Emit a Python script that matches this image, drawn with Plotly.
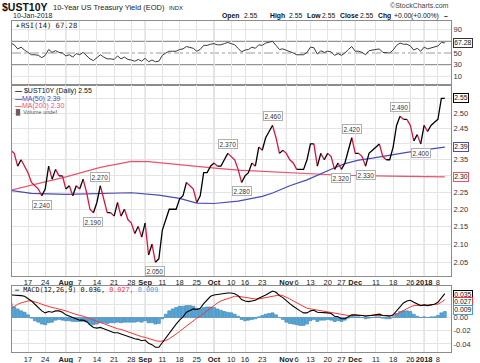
import math
import plotly.graph_objects as go

# ---------------- data ----------------
dates = [
    "2017-07-10","2017-07-11","2017-07-12","2017-07-13","2017-07-14","2017-07-17","2017-07-18","2017-07-19","2017-07-20","2017-07-21",
    "2017-07-24","2017-07-25","2017-07-26","2017-07-27","2017-07-28","2017-07-31",
    "2017-08-01","2017-08-02","2017-08-03","2017-08-04","2017-08-07","2017-08-08","2017-08-09","2017-08-10","2017-08-11","2017-08-14",
    "2017-08-15","2017-08-16","2017-08-17","2017-08-18","2017-08-21","2017-08-22","2017-08-23","2017-08-24","2017-08-25","2017-08-28",
    "2017-08-29","2017-08-30","2017-08-31",
    "2017-09-01","2017-09-05","2017-09-06","2017-09-07","2017-09-08","2017-09-11","2017-09-12","2017-09-13","2017-09-14","2017-09-15",
    "2017-09-18","2017-09-19","2017-09-20","2017-09-21","2017-09-22","2017-09-25","2017-09-26","2017-09-27","2017-09-28","2017-09-29",
    "2017-10-02","2017-10-03","2017-10-04","2017-10-05","2017-10-06","2017-10-10","2017-10-11","2017-10-12","2017-10-13","2017-10-16",
    "2017-10-17","2017-10-18","2017-10-19","2017-10-20","2017-10-23","2017-10-24","2017-10-25","2017-10-26","2017-10-27","2017-10-30",
    "2017-10-31",
    "2017-11-01","2017-11-02","2017-11-03","2017-11-06","2017-11-07","2017-11-08","2017-11-09","2017-11-13","2017-11-14","2017-11-15",
    "2017-11-16","2017-11-17","2017-11-20","2017-11-21","2017-11-22","2017-11-24","2017-11-27","2017-11-28","2017-11-29","2017-11-30",
    "2017-12-01","2017-12-04","2017-12-05","2017-12-06","2017-12-07","2017-12-08","2017-12-11","2017-12-12","2017-12-13","2017-12-14",
    "2017-12-15","2017-12-18","2017-12-19","2017-12-20","2017-12-21","2017-12-22","2017-12-26","2017-12-27","2017-12-28","2017-12-29",
    "2018-01-02","2018-01-03","2018-01-04","2018-01-05","2018-01-08","2018-01-09","2018-01-10",
]

close = [
    2.38,2.37,2.33,2.35,2.33,2.31,2.28,2.27,2.26,2.24,2.26,2.33,2.29,2.32,2.30,2.30,
    2.26,2.27,2.24,2.27,2.26,2.29,2.25,2.20,2.19,2.22,2.27,2.23,2.19,2.19,2.18,2.22,2.18,2.20,2.17,2.16,2.13,2.15,2.12,
    2.16,2.07,2.10,2.05,2.06,2.14,2.17,2.20,2.20,2.20,2.23,2.24,2.28,2.27,2.26,2.22,2.24,2.31,2.31,2.33,
    2.34,2.33,2.33,2.35,2.37,2.36,2.35,2.32,2.28,2.30,2.31,2.34,2.33,2.39,2.38,2.42,2.44,2.46,2.42,2.37,2.38,
    2.37,2.35,2.34,2.32,2.32,2.32,2.35,2.40,2.40,2.33,2.37,2.35,2.37,2.36,2.32,2.34,2.32,2.34,2.38,2.42,
    2.37,2.37,2.36,2.33,2.37,2.38,2.39,2.40,2.36,2.35,2.35,2.39,2.46,2.49,2.48,2.48,2.46,2.41,2.43,2.40,
    2.46,2.44,2.46,2.47,2.48,2.55,2.55,
]

rsi = [
    67,64,57,60,55,51,47,47,46,42, 46,56,51,54,51,50,45,47,43,49,
    47,51,46,40,37,42,47,43,40,40, 39,45,40,43,39,38,36,39,36,41,
    35,38,35,36,46,50,53,53,53,56, 57,61,60,58,53,56,63,63,65,66,
    64,64,66,68,66,64,58,52,55,56, 60,58,64,63,67,68,70,63,56,57,
    55,52,50,47,47,47,51,60,59,48, 54,51,53,52,46,49,46,50,56,61,
    53,53,51,47,54,55,56,57,51,50, 50,55,63,67,65,65,62,55,58,53,
    60,57,59,61,62,68,67.28,
]

ma50_dates = ["2017-07-10","2017-07-18","2017-08-01","2017-08-15","2017-08-28","2017-09-08","2017-09-18","2017-09-25",
              "2017-10-02","2017-10-12","2017-10-18","2017-10-23","2017-10-26","2017-11-02","2017-11-09","2017-11-17",
              "2017-11-22","2017-11-28","2017-12-04","2017-12-08","2017-12-15","2017-12-22","2018-01-02","2018-01-10"]
ma50 = [2.256,2.247,2.244,2.246,2.249,2.242,2.232,2.218,2.217,2.224,2.232,2.238,2.248,2.270,2.288,2.312,
        2.325,2.338,2.349,2.355,2.365,2.373,2.381,2.390]

ma200_dates = ["2017-07-10","2017-07-18","2017-08-01","2017-08-15","2017-08-28","2017-09-05","2017-09-19","2017-10-03",
               "2017-10-12","2017-11-02","2017-11-27","2017-12-15","2018-01-10"]
ma200 = [2.257,2.272,2.297,2.326,2.345,2.344,2.333,2.323,2.318,2.309,2.302,2.299,2.297]

macd = [
    0.034,0.034,0.033,0.033,0.032,0.029,0.025,0.020,0.015,0.010,
    0.007,0.009,0.008,0.010,0.010,0.008,0.004,0.002,-0.001,-0.003,
    -0.004,-0.004,-0.006,-0.011,-0.015,-0.016,-0.015,-0.017,-0.019,-0.021,
    -0.023,-0.023,-0.025,-0.026,-0.028,-0.030,-0.032,-0.033,-0.035,-0.034,
    -0.039,-0.041,-0.045,-0.045,-0.038,-0.031,-0.023,-0.016,-0.010,-0.004,
    0.001,0.008,0.011,0.013,0.012,0.014,0.021,0.027,0.032,0.034,
    0.035,0.035,0.036,0.037,0.037,0.036,0.033,0.027,0.025,0.024,
    0.025,0.026,0.029,0.031,0.034,0.037,0.040,0.038,0.033,0.030,
    0.025,0.021,0.017,0.013,0.010,0.007,0.007,0.010,0.011,0.008,
    0.008,0.007,0.007,0.006,0.002,0.001,-0.002,-0.002,0.001,0.004,
    0.004,0.004,0.003,0.002,0.003,0.003,0.004,0.005,0.003,0.002,
    0.002,0.004,0.010,0.017,0.022,0.025,0.026,0.023,0.021,0.018,
    0.019,0.018,0.019,0.020,0.023,0.030,0.036,
]

signal = [
    0.013,0.017,0.020,0.022,0.024,0.025,0.025,0.024,0.022,0.020,
    0.018,0.016,0.015,0.014,0.013,0.012,0.010,0.008,0.006,0.004,
    0.003,0.002,0.000,-0.002,-0.004,-0.006,-0.008,-0.010,-0.011,-0.013,
    -0.015,-0.017,-0.018,-0.020,-0.022,-0.024,-0.026,-0.027,-0.029,-0.030,
    -0.032,-0.034,-0.035,-0.036,-0.036,-0.035,-0.032,-0.029,-0.025,-0.021,
    -0.017,-0.012,-0.008,-0.004,-0.001,0.002,0.006,0.011,0.015,0.019,
    0.022,0.025,0.027,0.029,0.031,0.032,0.032,0.031,0.030,0.029,
    0.028,0.028,0.028,0.029,0.030,0.031,0.033,0.034,0.034,0.033,
    0.031,0.028,0.025,0.022,0.019,0.016,0.014,0.013,0.012,0.011,
    0.010,0.009,0.008,0.007,0.006,0.005,0.004,0.003,0.003,0.003,
    0.003,0.003,0.003,0.003,0.003,0.003,0.003,0.004,0.004,0.004,
    0.003,0.003,0.005,0.008,0.011,0.014,0.016,0.018,0.018,0.018,
    0.019,0.019,0.019,0.020,0.020,0.023,0.027,
]

hist = [
    0.021,0.016,0.013,0.010,0.008,0.004,-0.001,-0.005,-0.007,-0.010,
    -0.011,-0.008,-0.007,-0.004,-0.003,-0.004,-0.005,-0.005,-0.006,-0.006,
    -0.006,-0.006,-0.007,-0.010,-0.011,-0.010,-0.008,-0.008,-0.009,-0.008,
    -0.008,-0.007,-0.008,-0.007,-0.007,-0.007,-0.007,-0.006,-0.007,-0.005,
    -0.008,-0.008,-0.010,-0.009,-0.002,0.005,0.010,0.013,0.015,0.017,
    0.017,0.018,0.018,0.017,0.014,0.013,0.015,0.016,0.016,0.015,
    0.013,0.011,0.009,0.008,0.007,0.005,0.002,-0.003,-0.005,-0.004,
    -0.003,-0.002,0.001,0.003,0.005,0.006,0.007,0.004,0.000,-0.003,
    -0.007,-0.009,-0.010,-0.011,-0.012,-0.012,-0.010,-0.005,-0.003,-0.006,
    -0.004,-0.004,-0.003,-0.004,-0.006,-0.005,-0.006,-0.004,-0.001,0.002,
    0.001,0.001,0.000,-0.002,-0.001,0.000,0.001,0.001,-0.001,-0.002,
    -0.002,0.001,0.006,0.009,0.010,0.010,0.009,0.005,0.002,0.000,
    0.001,0.000,0.001,0.001,0.003,0.007,0.009,
]

tick_dates = ["2017-07-17","2017-07-24","2017-08-01","2017-08-07","2017-08-14","2017-08-21","2017-08-28",
              "2017-09-01","2017-09-11","2017-09-18","2017-09-25","2017-10-02","2017-10-10","2017-10-16",
              "2017-10-23","2017-11-01","2017-11-06","2017-11-13","2017-11-20","2017-11-27","2017-12-01",
              "2017-12-11","2017-12-18","2017-12-26","2018-01-02","2018-01-08"]
tick_text = ["17","24","<b>Aug</b>","7","14","21","28","<b>Sep</b>","11","18","25","<b>Oct</b>","10","16",
             "23","<b>Nov</b>","6","13","20","27","<b>Dec</b>","11","18","26","<b>2018</b>","8"]
month_dates = ["2017-08-01","2017-09-01","2017-10-02","2017-11-01","2017-12-01","2018-01-02"]

swing_dates = ["2017-07-21","2017-08-11","2017-08-15","2017-09-07","2017-10-06","2017-10-13",
               "2017-10-26","2017-11-27","2017-11-30","2017-12-06","2017-12-20","2017-12-29"]
swing_side = ["below","below","above","below","above","below","above","below","above","below","above","below"]

price_ticks = [2.05,2.10,2.15,2.20,2.25,2.30,2.35,2.40,2.45,2.50,2.55]
price_tick_text = ["2.05","2.10","2.15","2.20","2.25","","2.35","","2.45","2.50",""]   # others hidden under value tags
rsi_ticks = [10,30,50,70,90]
rsi_tick_text = ["10","30","50","","90"]
macd_ticks = [-0.04,-0.02,0.0,0.02,0.04]
macd_tick_text = ["-0.04","-0.02","0.00","",""]

# header quote line: (text, bold?)
quote_parts = [("Open", True), ("2.55", False), ("High", True), ("2.55", False), ("Low", True), ("2.55", False),
               ("Close", True), ("2.55", False), ("Chg", True), ("+0.00", False), ("(+0.00%)", False), ("\u2013", True)]

# ---------------- layout helpers ----------------
W, H = 480, 363
LEFT, RIGHT = 12, 451
RSI_TOP, RSI_BOT = 21, 85
MAIN_TOP, MAIN_BOT = 85, 275.7
MACD_TOP, MACD_BOT = 285.7, 352
FONT = "Liberation Sans, Arial, sans-serif"
MONO = "DejaVu Sans Mono, monospace"
QUOTE_X = [220, 242, 268, 287, 305, 320, 338, 358, 376, 392, 409, 442]

def px(xp):
    return xp / W

def py(yp):
    return 1 - yp / H

UP_COL = "#000000"
DN_COL = "#dc143c"
MA50_COL = "#4a4ab8"
MA200_COL = "#e8546e"
HIST_COL = "#56a8d8"
GRID = "#e4e4e4"
MONTHGRID = "#c9c9c9"
XRANGE = [0.356, 127.8]

fig = go.Figure()

# RSI panel
fig.add_trace(go.Scatter(x=dates, y=rsi, mode="lines", line=dict(color="#3a3a3a", width=1),
                         xaxis="x", yaxis="y", hoverinfo="skip"))

# price line, black on up-days and red on down-days
runs = {"up": ([], []), "dn": ([], [])}
cur = None
rx, ry = [], []
for k in range(len(close) - 1):
    c = "up" if close[k + 1] >= close[k] else "dn"
    if c != cur:
        if cur is not None:
            runs[cur][0].extend(rx + [rx[-1]])
            runs[cur][1].extend(ry + [None])
        rx, ry = [dates[k]], [close[k]]
        cur = c
    rx.append(dates[k + 1])
    ry.append(close[k + 1])
runs[cur][0].extend(rx)
runs[cur][1].extend(ry)

fig.add_trace(go.Scatter(x=ma200_dates, y=ma200, mode="lines", line=dict(color=MA200_COL, width=1.2),
                         xaxis="x2", yaxis="y2", hoverinfo="skip"))
fig.add_trace(go.Scatter(x=ma50_dates, y=ma50, mode="lines", line=dict(color=MA50_COL, width=1.2),
                         xaxis="x2", yaxis="y2", hoverinfo="skip"))
for key, col in (("dn", DN_COL), ("up", UP_COL)):
    fig.add_trace(go.Scatter(x=runs[key][0], y=runs[key][1], mode="lines", connectgaps=False,
                             line=dict(color=col, width=1.3), xaxis="x2", yaxis="y2", hoverinfo="skip"))

# MACD panel
fig.add_trace(go.Bar(x=dates, y=hist, marker=dict(color=HIST_COL, line=dict(color="#2f78a8", width=0.5)),
                     xaxis="x3", yaxis="y3", hoverinfo="skip"))
fig.add_trace(go.Scatter(x=dates, y=signal, mode="lines", line=dict(color="#ff3333", width=1),
                         xaxis="x3", yaxis="y3", hoverinfo="skip"))
fig.add_trace(go.Scatter(x=dates, y=macd, mode="lines", line=dict(color="#000000", width=1.1),
                         xaxis="x3", yaxis="y3", hoverinfo="skip"))

xcommon = dict(type="category", categoryorder="array", categoryarray=dates, range=XRANGE,
               tickmode="array", tickvals=tick_dates, ticktext=tick_text, showgrid=True, gridcolor=GRID,
               gridwidth=1, showline=True, linecolor="#8c8c8c", linewidth=1, mirror=True, ticks="",
               tickangle=0, zeroline=False, domain=[px(LEFT), px(RIGHT)], automargin=False,
               tickfont=dict(size=7.5, color="#222", family=FONT), fixedrange=True)
ycommon = dict(side="right", showline=True, linecolor="#8c8c8c", linewidth=1, mirror=True, ticks="",
               zeroline=False, automargin=False, tickfont=dict(size=7.5, color="#333", family=FONT),
               fixedrange=True)

fig.update_layout(
    width=W, height=H, margin=dict(l=0, r=0, t=0, b=0), autosize=False,
    paper_bgcolor="white", plot_bgcolor="white", showlegend=False, hovermode=False,
    template="none", bargap=0.12, font=dict(family=FONT, size=7.5, color="#222"),
    xaxis=dict(xcommon, anchor="y", showticklabels=False),
    xaxis2=dict(xcommon, anchor="y2", showticklabels=True, ticklabelstandoff=-1),
    xaxis3=dict(xcommon, anchor="y3", showticklabels=True),
    yaxis=dict(ycommon, anchor="x", domain=[py(RSI_BOT), py(RSI_TOP)], range=[-4.7, 104.7],
               tickmode="array", tickvals=rsi_ticks, ticktext=rsi_tick_text, showgrid=False),
    yaxis2=dict(ycommon, anchor="x2", domain=[py(MAIN_BOT), py(MAIN_TOP)], type="log",
                range=[math.log10(2.0137), math.log10(2.596)], tickmode="array", tickvals=price_ticks,
                ticktext=price_tick_text, showgrid=True, gridcolor=GRID),
    yaxis3=dict(ycommon, anchor="x3", domain=[py(MACD_BOT), py(MACD_TOP)], range=[-0.0521, 0.048],
                tickmode="array", tickvals=macd_ticks, ticktext=macd_tick_text,
                showgrid=True, gridcolor=GRID),
)

shapes = []
# RSI reference lines
for lvl, col, dash in ((90, GRID, "solid"), (10, GRID, "solid"), (70, "#7a7a7a", "solid"),
                       (30, "#7a7a7a", "solid"), (50, "#9a9a9a", "dashdot")):
    shapes.append(dict(type="line", xref="x domain", yref="y", x0=0, x1=1, y0=lvl, y1=lvl,
                       line=dict(color=col, width=1, dash=dash), layer="below"))
# darker month separators
for d in month_dates:
    for xr, yr in (("x", "y domain"), ("x2", "y2 domain"), ("x3", "y3 domain")):
        shapes.append(dict(type="line", xref=xr, yref=yr, x0=d, x1=d, y0=0, y1=1,
                           line=dict(color=MONTHGRID, width=1), layer="below"))
fig.update_layout(shapes=shapes)

ann = []

def text(t, x, y, size=7.5, color="#222", xanchor="left", family=FONT):
    ann.append(dict(text=t, x=px(x), y=py(y), xref="paper", yref="paper", showarrow=False,
                    xanchor=xanchor, yanchor="middle", font=dict(size=size, color=color, family=family)))

# header
text("<b>$UST10Y</b>", 0, 7, size=10.5, color="#111")
text("10-Year US Treasury Yield (EOD)", 51, 7.5, size=7.5, color="#222")
text("INDX", 167, 8, size=5.8, color="#222")
text("10-Jan-2018", 11, 15.5, size=7, color="#222")
text("\u00a9StockCharts.com", 451, 5.5, size=7, color="#444", xanchor="right")
for (t, bold), xq in zip(quote_parts, QUOTE_X):
    text("<b>%s</b>" % t if bold else t, xq, 15.5, size=6.8, color="#111")

# panel legends
text("\u25b2", 13, 25, size=5.5, color="#3d7a3d")
text("RSI(14) 67.28", 19, 25, size=7.2, color="#222", family=MONO)
text("<b>\u2014</b> $UST10Y (Daily) 2.55", 12.5, 91.5, size=7, color="#111")
text("<b>\u2014</b>MA(50) 2.39", 12.5, 98.7, size=7, color=MA50_COL)
text("<b>\u2014</b>MA(200) 2.30", 12.5, 105.8, size=7, color=MA200_COL)
text("\u2590\u258c Volume undef", 12, 112.8, size=5.5, color="#555")
text("<b>\u2014</b> MACD(12,26,9) 0.036, <span style='color:#ff3333'>0.027,</span> "
     "<span style='color:#3aa0e0'>0.009</span>", 12.5, 290.3, size=6.8, color="#111", family=MONO)

# swing-point labels
for d, side in zip(swing_dates, swing_side):
    v = close[dates.index(d)]
    ann.append(dict(text="%.3f" % v, x=d, y=math.log10(v), xref="x2", yref="y2", showarrow=False,
                    xanchor="center", yanchor="middle", yshift=(9 if side == "above" else -9),
                    font=dict(size=6.5, color="#333", family=FONT), bgcolor="white",
                    bordercolor="#b0b0b0", borderwidth=1, borderpad=0.5))

# right-hand value tags
def tag(t, y, yref, col, yshift=0):
    ann.append(dict(text=t, x=px(453), y=y, xref="paper", yref=yref, showarrow=False, xanchor="left",
                    yanchor="middle", yshift=yshift, font=dict(size=6.8, color="#111", family=FONT),
                    bgcolor="white", bordercolor=col, borderwidth=1, borderpad=0.3))

tag("2.55", math.log10(close[-1]), "y2", "#000")
tag("2.39", math.log10(ma50[-1]), "y2", MA50_COL)
tag("2.30", math.log10(ma200[-1]), "y2", MA200_COL)
tag("67.28", rsi[-1], "y", "#333")
tag("0.035", macd[-1], "y3", "#000", yshift=-1.5)
tag("0.027", signal[-1], "y3", "#ff3333", yshift=-2)
tag("0.009", hist[-1], "y3", "#3aa0e0", yshift=1.5)

fig.update_layout(annotations=ann)
fig.write_html("out.html", config={"displayModeBar": False, "staticPlot": True},
               post_script="document.body.style.margin='0';document.body.style.padding='0';")
